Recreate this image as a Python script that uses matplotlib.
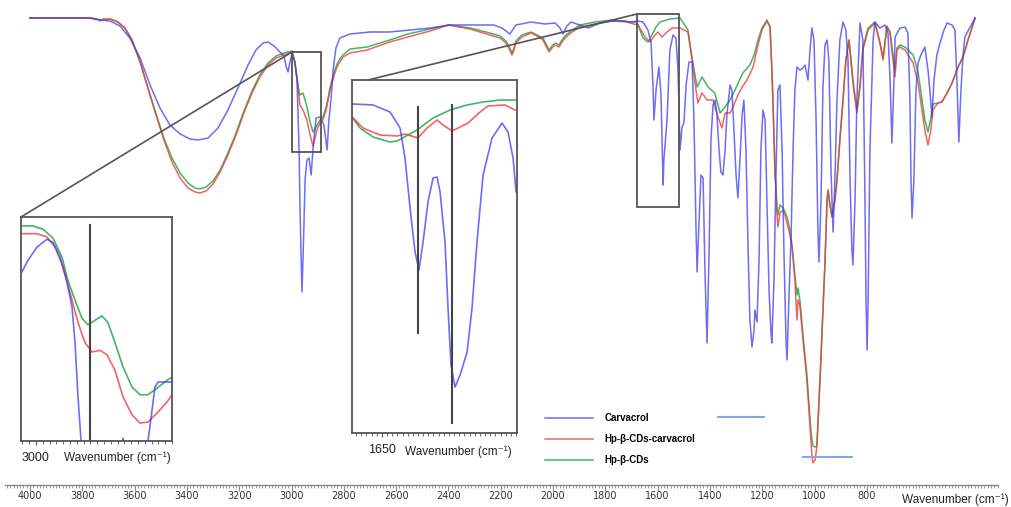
import numpy as np
import matplotlib
matplotlib.use("Agg")
import matplotlib.pyplot as plt
from matplotlib.patches import Rectangle, ConnectionPatch
from matplotlib.ticker import MultipleLocator, FixedLocator

# ---------------- main spectra (wavenumber cm-1, transmittance a.u.) ----------------
carv_wn = [4000, 3885, 3771, 3732, 3694, 3656, 3618, 3579, 3541, 3503, 3465, 3426, 3388, 3358, 3319, 3281,
           3243, 3205, 3166, 3136, 3109, 3090, 3067, 3044, 3029, 3021, 3013, 3006, 2998, 2987, 2979, 2971,
           2968, 2964, 2960, 2956, 2952, 2948, 2941, 2933, 2925, 2918, 2906, 2891, 2876, 2864, 2857, 2849,
           2841, 2830, 2815, 2776, 2700, 2624, 2547, 2470, 2398, 2317, 2226, 2195, 2165, 2142, 2084, 2031,
           1992, 1973, 1962, 1947, 1931, 1866, 1820, 1774, 1706, 1675, 1656, 1637, 1625, 1618, 1614, 1606,
           1595, 1587, 1583, 1579, 1576, 1564, 1553, 1541, 1530, 1522, 1514, 1507, 1499, 1491, 1480, 1468,
           1461, 1453, 1449, 1442, 1434, 1426, 1419, 1411, 1403, 1396, 1388, 1380, 1373, 1365, 1358, 1350,
           1342, 1335, 1323, 1316, 1308, 1300, 1293, 1285, 1277, 1270, 1262, 1254, 1247, 1239, 1231, 1228,
           1220, 1212, 1205, 1197, 1189, 1182, 1174, 1166, 1163, 1155, 1147, 1140, 1132, 1124, 1117, 1109,
           1105, 1098, 1090, 1082, 1075, 1067, 1056, 1044, 1036, 1025, 1017, 1010, 1002, 994, 987, 983,
           975, 968, 960, 952, 945, 937, 929, 922, 914, 903, 891, 880, 872, 864, 857, 853,
           845, 838, 826, 815, 807, 803, 799, 795, 788, 776, 769, 750, 731, 719, 711, 704,
           696, 692, 673, 654, 643, 635, 631, 627, 620, 612, 604, 593, 578, 566, 558, 551,
           543, 532, 520, 505, 493, 474, 463, 455, 448, 440, 432, 425, 405, 386]
carv_T = [96.4, 96.4, 96.4, 96.0, 95.8, 94.8, 92.4, 88.4, 83.0, 78.4, 75.0, 73.2, 72.2, 72.0, 72.4, 74.4,
          78.0, 82.4, 87.0, 90.0, 91.4, 91.6, 90.8, 89.6, 88.8, 86.8, 85.6, 87.6, 89.2, 87.6, 84.0, 70.0,
          60.0, 50.0, 41.6, 48.0, 56.0, 64.0, 68.0, 68.4, 65.0, 70.0, 76.4, 76.6, 75.0, 70.0, 76.0, 80.0,
          86.0, 90.4, 92.4, 93.2, 93.6, 93.6, 94.0, 94.4, 95.0, 95.0, 95.0, 94.4, 93.2, 95.0, 95.6, 95.2,
          95.4, 94.4, 93.2, 94.8, 95.6, 94.4, 95.4, 95.8, 95.6, 95.8, 95.6, 94.0, 91.4, 83.4, 76.0, 82.0,
          86.6, 81.0, 72.0, 63.0, 68.0, 76.0, 90.0, 93.0, 92.4, 86.0, 70.0, 74.4, 75.6, 83.0, 87.6, 87.6,
          76.0, 54.0, 45.6, 55.0, 65.0, 64.4, 46.0, 31.4, 50.0, 72.0, 79.0, 80.0, 77.0, 70.0, 65.6, 65.0,
          70.0, 77.0, 83.0, 82.0, 74.0, 65.0, 60.4, 68.0, 77.0, 80.0, 70.0, 50.0, 36.0, 30.6, 34.0, 38.0,
          35.6, 48.0, 70.0, 78.0, 76.0, 60.0, 42.0, 33.0, 31.4, 44.0, 66.0, 82.0, 83.0, 70.0, 50.0, 32.0,
          28.0, 40.0, 52.0, 70.0, 82.0, 86.6, 86.0, 86.4, 87.0, 84.0, 90.0, 94.4, 92.0, 76.0, 54.0, 47.6,
          60.0, 82.0, 91.0, 92.0, 88.0, 66.0, 53.6, 64.0, 80.0, 92.0, 95.6, 94.0, 88.0, 64.0, 50.0, 47.0,
          60.0, 80.0, 95.4, 92.0, 60.0, 40.0, 30.0, 40.0, 70.0, 92.0, 95.6, 94.4, 95.0, 93.4, 84.0, 71.4,
          84.0, 92.6, 94.4, 94.6, 93.4, 80.0, 64.0, 56.4, 64.0, 82.0, 87.4, 89.0, 90.6, 86.0, 81.4, 76.6,
          84.0, 89.0, 91.4, 94.0, 95.4, 95.0, 94.0, 83.4, 71.6, 82.0, 89.0, 92.6, 94.6, 96.4]

cplx_wn = [4000, 3885, 3771, 3744, 3732, 3721, 3694, 3664, 3637, 3610, 3579, 3549, 3518, 3488, 3457, 3426,
           3396, 3369, 3350, 3327, 3300, 3273, 3243, 3212, 3182, 3151, 3121, 3090, 3059, 3029, 2998, 2987,
           2975, 2968, 2956, 2941, 2929, 2918, 2910, 2903, 2891, 2880, 2868, 2860, 2853, 2845, 2834, 2826,
           2815, 2803, 2776, 2711, 2624, 2555, 2470, 2398, 2317, 2241, 2203, 2180, 2165, 2157, 2149, 2142,
           2119, 2084, 2061, 2038, 2027, 2015, 2004, 1992, 1977, 1966, 1954, 1927, 1897, 1839, 1774, 1725,
           1706, 1675, 1648, 1629, 1610, 1599, 1583, 1564, 1545, 1514, 1484, 1469, 1457, 1446, 1430, 1411,
           1388, 1369, 1354, 1342, 1323, 1312, 1296, 1277, 1258, 1235, 1216, 1201, 1182, 1170, 1163, 1159,
           1151, 1147, 1143, 1140, 1132, 1120, 1113, 1105, 1094, 1086, 1075, 1067, 1063, 1056, 1044, 1029,
           1017, 1010, 1006, 998, 991, 979, 968, 960, 952, 948, 941, 933, 922, 914, 903, 891,
           880, 868, 861, 853, 838, 826, 815, 795, 769, 750, 738, 723, 711, 700, 692, 685,
           673, 654, 623, 604, 589, 578, 566, 555, 547, 528, 513, 493, 474, 451, 432, 413,
           398, 386]
cplx_T = [96.4, 96.4, 96.4, 96.2, 95.8, 96.2, 96.2, 95.6, 94.4, 92.0, 87.6, 82.4, 77.0, 72.0, 67.6, 64.4,
          62.4, 61.6, 61.4, 61.8, 63.2, 65.6, 69.0, 73.0, 77.4, 81.4, 84.6, 87.0, 88.4, 89.0, 89.6, 87.4,
          82.6, 79.0, 78.0, 76.0, 73.0, 70.8, 72.4, 74.0, 75.4, 76.0, 78.0, 80.0, 82.0, 83.4, 85.4, 86.6,
          87.6, 88.6, 89.4, 90.0, 91.6, 92.6, 93.8, 95.0, 94.2, 93.0, 92.4, 91.4, 90.0, 89.0, 90.0, 91.4,
          92.6, 93.4, 92.8, 92.0, 90.8, 89.6, 90.4, 91.0, 90.6, 91.6, 92.4, 93.6, 94.6, 95.2, 95.8, 95.8,
          95.4, 95.0, 92.6, 91.6, 93.0, 93.6, 92.6, 93.6, 94.4, 94.4, 93.6, 88.4, 83.4, 79.4, 81.4, 80.0,
          80.0, 76.6, 74.4, 77.4, 77.4, 78.6, 80.6, 82.6, 84.0, 86.6, 91.0, 94.0, 95.8, 94.6, 86.0, 80.0,
          65.4, 61.6, 56.6, 54.6, 57.4, 58.0, 57.0, 55.4, 53.0, 50.6, 44.0, 36.0, 40.0, 39.0, 32.0, 24.0,
          14.6, 9.0, 7.4, 8.0, 10.6, 24.0, 37.4, 47.4, 60.0, 62.0, 59.0, 56.6, 60.0, 64.0, 72.0, 80.0,
          88.0, 92.0, 88.0, 83.4, 77.4, 82.6, 90.0, 94.0, 95.4, 91.4, 88.0, 94.6, 93.4, 88.0, 84.6, 90.0,
          90.6, 90.0, 87.4, 83.4, 78.0, 74.0, 71.0, 74.0, 78.0, 79.4, 79.6, 81.4, 83.4, 86.6, 88.6, 92.0,
          94.4, 96.4]

cd_wn = [4000, 3771, 3732, 3694, 3664, 3637, 3610, 3579, 3549, 3518, 3488, 3457, 3426, 3396, 3369, 3350,
         3327, 3300, 3273, 3243, 3212, 3182, 3151, 3121, 3090, 3059, 3029, 2998, 2987, 2975, 2968, 2956,
         2948, 2941, 2929, 2918, 2906, 2891, 2880, 2868, 2860, 2853, 2845, 2834, 2826, 2815, 2803, 2776,
         2711, 2624, 2555, 2470, 2398, 2317, 2241, 2203, 2180, 2165, 2157, 2149, 2142, 2119, 2084, 2061,
         2038, 2027, 2015, 2004, 1992, 1977, 1966, 1954, 1927, 1897, 1839, 1774, 1725, 1706, 1679, 1656,
         1637, 1622, 1606, 1591, 1553, 1514, 1484, 1469, 1449, 1430, 1407, 1381, 1361, 1342, 1323, 1304,
         1274, 1247, 1231, 1216, 1201, 1182, 1170, 1163, 1159, 1151, 1147, 1143, 1140, 1132, 1120, 1113,
         1105, 1094, 1086, 1075, 1067, 1063, 1056, 1044, 1029, 1017, 1010, 1006, 998, 991, 979, 968,
         960, 952, 948, 941, 933, 922, 914, 903, 891, 880, 868, 861, 853, 838, 826, 815,
         795, 769, 750, 738, 723, 711, 700, 692, 685, 673, 654, 623, 604, 589, 578, 566,
         555, 547, 528, 513, 493, 474, 451, 432, 413, 398, 386]
cd_T = [96.4, 96.4, 96.0, 96.2, 95.6, 94.4, 92.0, 87.6, 82.4, 77.2, 72.4, 68.4, 65.4, 63.4, 62.4, 62.2,
        62.6, 63.8, 66.0, 69.4, 73.4, 77.8, 81.8, 85.0, 87.4, 88.8, 89.4, 89.8, 87.6, 83.0, 81.0, 81.4,
        80.0, 78.6, 75.6, 73.6, 74.6, 76.0, 76.6, 78.4, 80.4, 82.4, 84.0, 86.0, 87.2, 88.2, 89.0, 90.2,
        90.6, 92.0, 93.2, 94.2, 95.0, 94.4, 93.4, 92.8, 91.8, 90.4, 89.4, 90.4, 91.8, 93.0, 93.6, 93.0,
        92.4, 91.2, 90.0, 90.8, 91.4, 91.0, 92.0, 92.8, 94.0, 95.0, 95.6, 96.0, 95.8, 95.6, 95.6, 92.4,
        91.6, 93.0, 94.6, 95.6, 96.2, 96.4, 94.0, 88.6, 82.6, 84.6, 82.6, 81.4, 77.4, 78.6, 80.0, 82.0,
        85.4, 87.0, 89.0, 92.0, 94.4, 96.0, 94.6, 86.0, 80.0, 65.4, 61.6, 58.0, 57.0, 59.0, 58.4, 57.6,
        56.6, 54.0, 51.0, 45.0, 41.0, 42.4, 40.0, 33.0, 25.0, 16.0, 12.0, 10.8, 10.6, 10.8, 24.0, 37.4,
        47.4, 60.0, 62.0, 59.0, 56.6, 60.0, 64.0, 72.0, 80.0, 88.0, 92.0, 88.4, 84.0, 78.0, 83.0, 90.4,
        94.4, 95.6, 91.6, 88.4, 94.8, 93.6, 89.0, 86.0, 90.4, 91.0, 90.6, 89.0, 85.6, 80.0, 76.0, 73.6,
        76.4, 79.2, 79.4, 79.6, 81.4, 83.4, 86.6, 88.6, 92.0, 94.4, 96.4]

# ---------------- inset 1 (C-H stretching region) ----------------
in1_carv_wn = [3010.3, 3005.9, 2999.2, 2991.9, 2987.5, 2982.3, 2977.2, 2973.5, 2971.3, 2969.1, 2966.9,
               2964.0, 2952.9, 2941.9, 2936.0, 2930.9, 2923.5, 2919.1, 2917.7, 2914.7, 2912.5, 2910.3, 2900.0]
in1_carv_T = [84.65, 85.7, 86.9, 87.6, 87.3, 86.0, 83.75, 81.5, 78.3, 73.4, 69.5,
              64.1, 58.7, 65.9, 69.7, 65.9, 62.3, 65.9, 69.35, 72.2, 74.3, 74.75, 74.75]
in1_cplx_wn = [3010.3, 2999.2, 2991.9, 2986.0, 2980.1, 2975.0, 2969.1, 2964.0, 2958.8, 2952.9, 2947.8,
               2941.9, 2936.0, 2929.4, 2923.5, 2917.7, 2911.0, 2903.7, 2900.0]
in1_cplx_T = [88.1, 88.1, 87.8, 86.9, 85.1, 82.8, 80.1, 78.3, 77.45, 77.6, 77.2,
              75.8, 73.4, 71.8, 71.05, 71.15, 71.95, 72.95, 73.6]
in1_cd_wn = [3010.3, 3002.2, 2994.8, 2987.5, 2980.9, 2976.5, 2971.3, 2966.2, 2961.8, 2956.6, 2951.5,
             2947.1, 2941.9, 2936.0, 2929.4, 2923.5, 2917.7, 2911.0, 2903.7, 2900.0]
in1_cd_T = [88.8, 88.8, 88.5, 87.7, 86.0, 83.9, 82.1, 80.5, 79.9, 80.3, 80.7,
            80.1, 78.3, 76.1, 74.3, 73.6, 73.6, 74.2, 74.9, 75.2]
in1_marks_wn = [2960]
in1_marks_top = [88.9]

# ---------------- inset 2 (aromatic C=C region) ----------------
in2_carv_wn = [1679.0, 1658.6, 1642.1, 1632.4, 1627.6, 1622.7, 1617.9, 1614.0, 1610.1, 1605.3, 1600.4,
               1596.5, 1593.6, 1588.8, 1585.9, 1583.0, 1579.1, 1574.2, 1567.4, 1562.6, 1557.8, 1551.9,
               1543.2, 1533.5, 1527.7, 1522.8, 1519.9]
in2_carv_T = [94.58, 94.47, 93.70, 91.95, 88.67, 83.21, 78.40, 76.43, 79.49, 83.87, 86.49,
              86.60, 84.96, 79.49, 72.28, 66.05, 63.64, 64.96, 67.47, 72.28, 79.49, 86.82,
              90.86, 92.50, 91.52, 88.67, 84.96]
in2_cplx_wn = [1679.0, 1668.3, 1651.8, 1635.4, 1627.6, 1615.0, 1606.3, 1596.5, 1590.7, 1582.0, 1574.2,
               1566.5, 1554.8, 1547.1, 1530.6, 1520.9]
in2_cplx_T = [93.16, 91.95, 91.19, 91.08, 91.30, 90.86, 91.95, 92.83, 92.28, 91.63, 92.06,
              92.50, 93.70, 94.36, 94.47, 93.92]
in2_cd_wn = [1679.0, 1671.2, 1658.6, 1642.1, 1635.4, 1616.0, 1600.4, 1583.9, 1567.4, 1551.9, 1535.4, 1520.9]
in2_cd_T = [93.16, 91.95, 90.97, 90.42, 90.53, 91.73, 93.05, 93.92, 94.47, 94.80, 95.01, 95.01]
in2_marks_wn = [1615, 1582]
in2_marks_top = [94.25, 94.47]
in2_marks_bottom = [69.55, 59.71]

# zoom boxes on the main spectrum
box1_wn = [2998, 2887]
box1_T = [69.6, 89.6]
box2_wn = [1679, 1518]
box2_T = [58.6, 97.2]

# stray light-blue strokes present in the figure
stray1_wn = [1369, 1194]
stray1_T = [16.6, 16.6]
stray2_wn = [1044, 857]
stray2_T = [8.6, 8.6]

tick_values = [4000, 3800, 3600, 3400, 3200, 3000, 2800, 2600, 2400, 2200, 2000, 1800, 1600, 1400, 1200, 1000, 800]
tick_labels = [str(v) for v in tick_values]
legend_labels = ["Carvacrol", "Hp-β-CDs-carvacrol", "Hp-β-CDs"]

BLUE = "#3c3cf2"
RED = "#f23c3c"
GREEN = "#22a84a"
GRAY = "#555555"
TXT_FAMILY = ["Liberation Sans", "DejaVu Sans"]

W, H = 1011, 507
fig = plt.figure(figsize=(W / 100, H / 100), dpi=100)

# ---------------- main axes ----------------
ax = fig.add_axes([5 / W, 22 / H, 993 / W, 485 / H])
ax.set_xlim(4095.6, 298.3)
ax.set_ylim(3, 100)
lg, = ax.plot(cd_wn, cd_T, color=GREEN, lw=1.1, alpha=0.85)
lr, = ax.plot(cplx_wn, cplx_T, color=RED, lw=1.1, alpha=0.8)
lb, = ax.plot(carv_wn, carv_T, color=BLUE, lw=1.1, alpha=0.75)
ax.plot(stray1_wn, stray1_T, color="#86a6e6", lw=1.5)
ax.plot(stray2_wn, stray2_T, color="#86a6e6", lw=1.5)

for bw, bt in ((box1_wn, box1_T), (box2_wn, box2_T)):
    ax.add_patch(Rectangle((bw[1], bt[0]), bw[0] - bw[1], bt[1] - bt[0],
                           fill=False, ec=GRAY, lw=1.3, zorder=5))

for s in ("top", "left", "right"):
    ax.spines[s].set_visible(False)
ax.spines["bottom"].set_color("#888888")
ax.spines["bottom"].set_linewidth(1.0)
ax.set_yticks([])
ax.xaxis.set_major_locator(FixedLocator(tick_values))
ax.set_xticklabels(tick_labels)
ax.xaxis.set_minor_locator(MultipleLocator(12.5))
ax.tick_params(axis="x", which="major", length=4, width=0.8, color="#888888",
               pad=0.5, labelsize=7, labelcolor="#333333")
ax.tick_params(axis="x", which="minor", length=2.5, width=0.6, color="#888888")
fig.text(955 / W, 1 - 500 / H, "Wavenumber (cm⁻¹)", ha="center", va="center",
         fontsize=8.5, family=TXT_FAMILY, color="#222222")

ax.legend(handles=[lb, lr, lg], labels=legend_labels, loc="upper left",
          bbox_to_anchor=(545 / W, 1 - 413 / H), bbox_transform=fig.transFigure,
          frameon=False, prop={"weight": "bold", "size": 7, "family": "Liberation Sans"},
          handlelength=4.9, handletextpad=1.2, labelspacing=1.15, borderpad=0, borderaxespad=0)


def style_inset(a, tick, lab_x_px, lab_y_px):
    a.set_yticks([])
    a.xaxis.set_major_locator(FixedLocator([tick]))
    a.set_xticklabels([str(tick)])
    a.xaxis.set_minor_locator(MultipleLocator(5))
    a.tick_params(axis="x", which="major", length=3, width=0.8, color=GRAY, pad=5,
                  labelsize=9, labelcolor="#222222")
    for lab in a.get_xticklabels():
        lab.set_family(TXT_FAMILY)
    a.tick_params(axis="x", which="minor", length=2.5, width=0.6, color=GRAY)
    for s in a.spines.values():
        s.set_color(GRAY)
        s.set_linewidth(1.3)
    fig.text(lab_x_px / W, 1 - lab_y_px / H, "Wavenumber (cm⁻¹)", ha="center", va="center",
             fontsize=8.5, family=TXT_FAMILY, color="#222222")


# ---------------- inset 1 ----------------
ax1 = fig.add_axes([21 / W, 66 / H, 151 / W, 224 / H])
ax1.set_xlim(3011, 2900)
ax1.set_ylim(69.44, 89.6)
ax1.plot(in1_cd_wn, in1_cd_T, color=GREEN, lw=1.2, alpha=0.85)
ax1.plot(in1_cplx_wn, in1_cplx_T, color=RED, lw=1.2, alpha=0.8)
ax1.plot(in1_carv_wn, in1_carv_T, color=BLUE, lw=1.2, alpha=0.75)
for mw, mt in zip(in1_marks_wn, in1_marks_top):
    ax1.plot([mw, mw], [mt, 69.44], color="#444444", lw=1.5)
style_inset(ax1, 3000, 117, 458)

# ---------------- inset 2 ----------------
ax2 = fig.add_axes([352 / W, 74 / H, 165 / W, 353 / H])
ax2.set_xlim(1679, 1519)
ax2.set_ylim(58.62, 97.2)
ax2.plot(in2_cd_wn, in2_cd_T, color=GREEN, lw=1.2, alpha=0.85)
ax2.plot(in2_cplx_wn, in2_cplx_T, color=RED, lw=1.2, alpha=0.8)
ax2.plot(in2_carv_wn, in2_carv_T, color=BLUE, lw=1.2, alpha=0.75)
for mw, mt, mb in zip(in2_marks_wn, in2_marks_top, in2_marks_bottom):
    ax2.plot([mw, mw], [mt, mb], color="#444444", lw=1.5)
style_inset(ax2, 1650, 458, 452)

# connectors from insets to zoom boxes
con1 = ConnectionPatch(xyA=(0, 1), coordsA=ax1.transAxes,
                       xyB=(box1_wn[0], box1_T[1]), coordsB=ax.transData,
                       color=GRAY, lw=1.2)
fig.add_artist(con1)
con2 = ConnectionPatch(xyA=(0.097, 1), coordsA=ax2.transAxes,
                       xyB=(box2_wn[0], box2_T[1]), coordsB=ax.transData,
                       color=GRAY, lw=1.2)
fig.add_artist(con2)

fig.savefig("out.png", dpi=100)
